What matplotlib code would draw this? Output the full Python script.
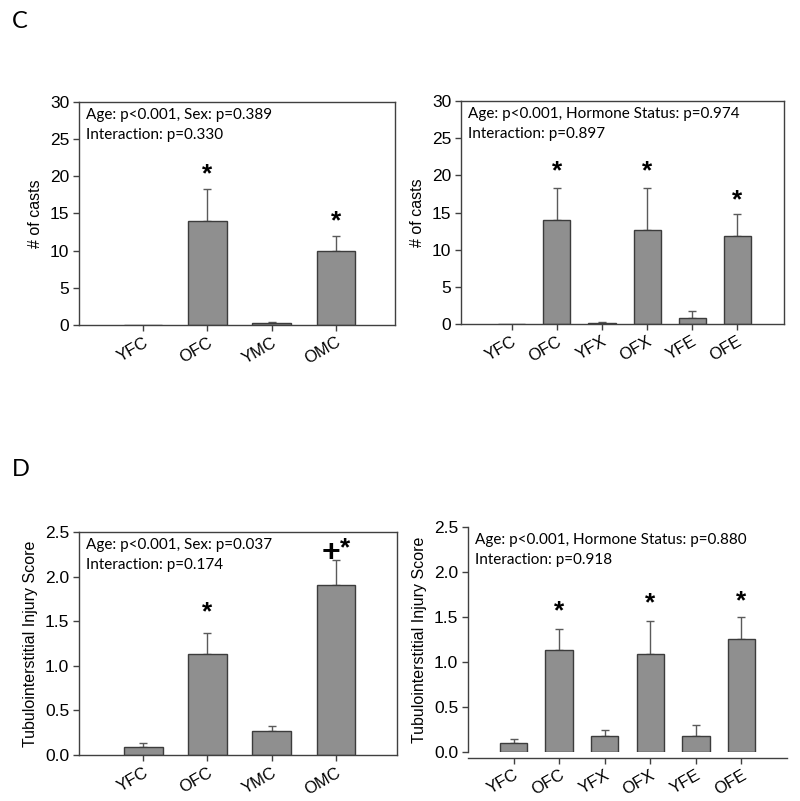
import numpy as np
import matplotlib
matplotlib.use("Agg")
import matplotlib.pyplot as plt

# ─── Données ────────────────────────────────────────────────────────────
groups_sex = ["YFC", "OFC", "YMC", "OMC"]
groups_hormone = ["YFC", "OFC", "YFX", "OFX", "YFE", "OFE"]

casts_sex = [0.0, 14.0, 0.25, 10.0]
casts_sex_err = [0.0, 4.3, 0.12, 2.0]
casts_hormone = [0.0, 14.0, 0.15, 12.7, 0.8, 11.8]
casts_hormone_err = [0.0, 4.3, 0.1, 5.6, 0.9, 3.0]

injury_sex = [0.095, 1.13, 0.27, 1.91]
injury_sex_err = [0.045, 0.24, 0.06, 0.28]
injury_hormone = [0.095, 1.13, 0.18, 1.085, 0.18, 1.25]
injury_hormone_err = [0.045, 0.24, 0.065, 0.375, 0.12, 0.255]

stats_casts_sex = "Age: p<0.001, Sex: p=0.389\nInteraction: p=0.330"
stats_casts_hormone = "Age: p<0.001, Hormone Status: p=0.974\nInteraction: p=0.897"
stats_injury_sex = "Age: p<0.001, Sex: p=0.037\nInteraction: p=0.174"
stats_injury_hormone = "Age: p<0.001, Hormone Status: p=0.880\nInteraction: p=0.918"

BAR = "#8f8f8f"
EDGE = "#3c3c3c"
AX = "#404040"
TICK_FONT = "Liberation Sans"
NOTE_FONT = "Lato"


def bar_panel(ax, labels, vals, errs, ylim, yticks, ylabel, note, xlim, yfmt,
              open_frame=False):
    if open_frame:
        # la position du spine doit précéder les labels (reset des ticks)
        ax.spines["top"].set_visible(False)
        ax.spines["right"].set_visible(False)
        ax.spines["bottom"].set_position(("outward", 4))
    x = np.arange(1, len(labels) + 1)
    ax.bar(x, vals, width=0.6, color=BAR, edgecolor=EDGE, linewidth=1.0, zorder=2)
    vals = np.asarray(vals)
    errs = np.asarray(errs)
    m = vals > 0
    ax.errorbar(x[m], vals[m], yerr=[np.zeros(m.sum()), errs[m]], fmt="none",
                ecolor="#5a5a5a", elinewidth=1.0, capsize=3, capthick=1.0, zorder=1)
    ax.set_xlim(*xlim)
    ax.set_ylim(*ylim)
    ax.set_xticks(x)
    ax.set_xticklabels(labels, rotation=30, ha="right", rotation_mode="anchor",
                       fontsize=12, family=TICK_FONT)
    ax.set_yticks(yticks)
    ax.set_yticklabels([yfmt.format(t) for t in yticks], fontsize=12.5,
                       family=TICK_FONT)
    ax.set_ylabel(ylabel, fontsize=11.5, family=TICK_FONT, labelpad=5)
    ax.tick_params(axis="both", direction="out", length=4, width=1.0,
                   color=AX, pad=3)
    ax.tick_params(axis="x", pad=3)
    for s in ax.spines.values():
        s.set_color(AX)
        s.set_linewidth(1.0)
    ax.text(0.022, 0.975, note, transform=ax.transAxes, va="top", ha="left",
            fontsize=11, family=NOTE_FONT, linespacing=1.6)
    return x


def star(ax, xpos, y, s="*", size=19):
    ax.text(xpos, y, s, ha="center", va="center", fontsize=size,
            family=TICK_FONT, fontweight="bold")


fig = plt.figure(figsize=(8.0, 8.01), dpi=100)

# Panneau C — gauche
ax1 = fig.add_axes([0.09875, 0.5943, 0.395, 0.2784])
bar_panel(ax1, groups_sex, casts_sex, casts_sex_err, (0, 30), range(0, 31, 5),
          "# of casts", stats_casts_sex, (0, 4.92), "{:d}")
star(ax1, 2, 20.3)
star(ax1, 4, 14.0)

# Panneau C — droite
ax2 = fig.add_axes([0.57625, 0.5955, 0.40375, 0.2784])
bar_panel(ax2, groups_hormone, casts_hormone, casts_hormone_err, (0, 30),
          range(0, 31, 5), "# of casts", stats_casts_hormone, (-0.13, 7.04), "{:d}")
star(ax2, 2, 20.5)
star(ax2, 4, 20.5)
star(ax2, 6, 16.6)

# Panneau D — gauche
ax3 = fig.add_axes([0.09875, 0.0574, 0.3975, 0.2784])
bar_panel(ax3, groups_sex, injury_sex, injury_sex_err, (0, 2.5),
          np.arange(0, 2.51, 0.5), "Tubulointerstitial Injury Score",
          stats_injury_sex, (0, 4.95), "{:.1f}")
star(ax3, 2, 1.6)
star(ax3, 3.92, 2.27, "+", 23)
star(ax3, 4.14, 2.32)

# Panneau D — droite (sans cadre, axe x décalé)
ax4 = fig.add_axes([0.585, 0.0612, 0.39875, 0.2809])
bar_panel(ax4, groups_hormone, injury_hormone, injury_hormone_err, (0, 2.5),
          np.arange(0, 2.51, 0.5), "Tubulointerstitial Injury Score",
          stats_injury_hormone, (0, 7), "{:.1f}", open_frame=True)
star(ax4, 2, 1.56)
star(ax4, 4, 1.65)
star(ax4, 6, 1.67)

fig.text(12 / 800, 1 - 28 / 801, "C", fontsize=17, family=NOTE_FONT)
fig.text(12 / 800, 1 - 476 / 801, "D", fontsize=17, family=NOTE_FONT)

fig.savefig("out.png", dpi=100)
